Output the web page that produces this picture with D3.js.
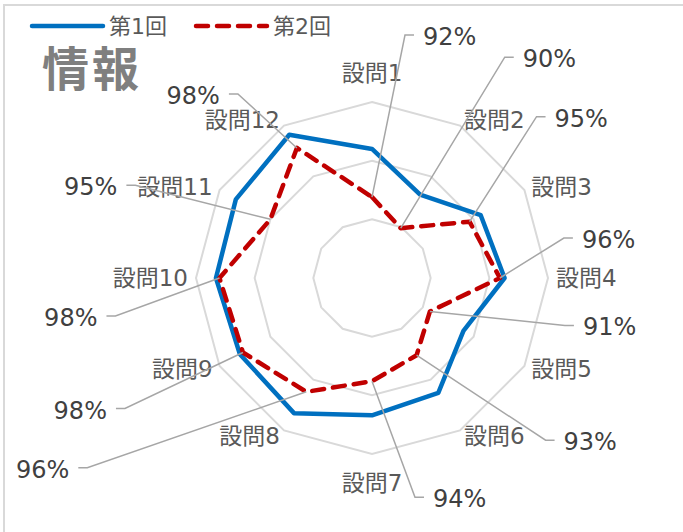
<!DOCTYPE html>
<html>
<head>
<meta charset="utf-8">
<script src="https://cdn.jsdelivr.net/npm/d3@7"></script>
<style>
  body { margin: 0; background: #fff; }
  svg { display: block; }
</style>
</head>
<body>
<div id="chart"></div>
<script>
let w = 683; let h = 532;

// data
let categories = ["設問1", "設問2", "設問3", "設問4", "設問5", "設問6", "設問7", "設問8", "設問9", "設問10", "設問11", "設問12"];
let round1 = [0.960, 0.932, 0.957, 0.963, 0.940, 0.963, 0.967, 0.983, 0.980, 0.983, 0.984, 0.991];
let round2 = [0.919, 0.899, 0.946, 0.959, 0.907, 0.926, 0.938, 0.962, 0.977, 0.980, 0.950, 0.978];
let seriesNames = ["第1回", "第2回"];
let radialTicks = [0.85, 0.90, 0.95, 1.00];
let title = "情報";

// where the dragged data labels sit, relative to their point (dx, dy of the elbow)
let labelOffsets = [[33, -162], [104, -171], [67, -105], [64, -40], [135, 14], [129, 85],
                    [43, 116], [-219, 76], [-118, 56], [-104, 38], [-135, -34], [-59, -54]];

let cx = 372; let cy = 278; let R = 176;
let fontFam = "'DejaVu Sans', 'Noto Sans CJK JP', sans-serif";

let svg = d3.select("#chart").append("svg").attr("width", w).attr("height", h);

// chart frame (only top/left edges are inside the window)
svg.append("rect")
  .attr("x", 4).attr("y", 5).attr("width", w + 20).attr("height", h + 20)
  .attr("fill", "#fff").attr("stroke", "#d9d9d9").attr("stroke-width", 2);

let rScale = d3.scaleLinear().domain([0.85, 1.0]).range([0, R]);
let aScale = d3.scaleLinear().domain([0, categories.length]).range([0, 2 * Math.PI]);

function px(i, v) { return cx + rScale(v) * Math.sin(aScale(i)); }
function py(i, v) { return cy - rScale(v) * Math.cos(aScale(i)); }

// grid rings
let ringLine = d3.lineRadial().angle((d, i) => aScale(i)).radius(d => d).curve(d3.curveLinearClosed);
svg.append("g").attr("transform", `translate(${cx},${cy})`)
  .selectAll("path").data(radialTicks.filter(t => t > 0.85)).enter().append("path")
  .attr("d", t => ringLine(categories.map(() => rScale(t))))
  .attr("fill", "none").attr("stroke", "#d9d9d9").attr("stroke-width", 2);

// category labels
svg.append("g").selectAll("text").data(categories).enter().append("text")
  .text(d => d)
  .each(function (d, i) {
    let a = aScale(i);
    let s = Math.sin(a), c = Math.cos(a);
    let vx = cx + R * s, vy = cy - R * c;
    let vertical = Math.abs(s) < 0.01;
    let off = vertical ? 29 : 6;
    d3.select(this)
      .attr("x", vertical ? vx : vx + s * 8)
      .attr("y", vy - c * off)
      .attr("text-anchor", vertical ? "middle" : (s > 0 ? "start" : "end"));
  })
  .attr("dominant-baseline", "central")
  .attr("font-family", fontFam).attr("font-size", 23)
  .attr("fill", "#595959");

// series lines
let line = d3.line().curve(d3.curveLinearClosed);
svg.append("path")
  .attr("d", line(round1.map((v, i) => [px(i, v), py(i, v)])))
  .attr("fill", "none").attr("stroke", "#0070c0").attr("stroke-width", 4.5)
  .attr("stroke-linejoin", "round");

svg.append("path")
  .attr("d", line(round2.map((v, i) => [px(i, v), py(i, v)])))
  .attr("fill", "none").attr("stroke", "#c00000").attr("stroke-width", 4.5)
  .attr("stroke-linejoin", "round").attr("stroke-linecap", "round")
  .attr("stroke-dasharray", "12,9");

// data labels with leader lines (series 2)
let fmt = d3.format(".0%");
let labels = svg.append("g");
round2.forEach((v, i) => {
  let x0 = px(i, v), y0 = py(i, v);
  let ex = x0 + labelOffsets[i][0], ey = y0 + labelOffsets[i][1];
  let dir = labelOffsets[i][0] >= 0 ? 1 : -1;
  labels.append("path")
    .attr("d", d3.line()([[x0, y0], [ex, ey], [ex + dir * 9, ey]]))
    .attr("fill", "none").attr("stroke", "#a6a6a6").attr("stroke-width", 1.5);
  labels.append("text")
    .attr("x", ex + dir * 18).attr("y", ey + 2)
    .attr("text-anchor", dir > 0 ? "start" : "end")
    .attr("dominant-baseline", "central")
    .attr("font-family", fontFam).attr("font-size", 24)
    .attr("fill", "#404040")
    .text(fmt(v));
});

// legend
let legend = svg.append("g");
let legendX = [32, 196];
seriesNames.forEach((name, i) => {
  let l = legend.append("line")
    .attr("x1", legendX[i]).attr("x2", legendX[i] + 71)
    .attr("y1", 26).attr("y2", 26)
    .attr("stroke", i === 0 ? "#0070c0" : "#c00000")
    .attr("stroke-width", 4.5).attr("stroke-linecap", "round");
  if (i === 1) l.attr("stroke-dasharray", "12,9");
  legend.append("text")
    .attr("x", legendX[i] + 77).attr("y", 26)
    .attr("dominant-baseline", "central")
    .attr("font-family", fontFam).attr("font-size", 22)
    .attr("fill", "#595959")
    .text(name);
});

// title
svg.append("text")
  .attr("x", 42).attr("y", 65)
  .attr("dominant-baseline", "central")
  .attr("font-family", "'Noto Sans CJK JP', sans-serif")
  .attr("font-size", 47).attr("font-weight", "bold")
  .attr("letter-spacing", 3)
  .attr("fill", "#7f7f7f")
  .text(title);
</script>
</body>
</html>
